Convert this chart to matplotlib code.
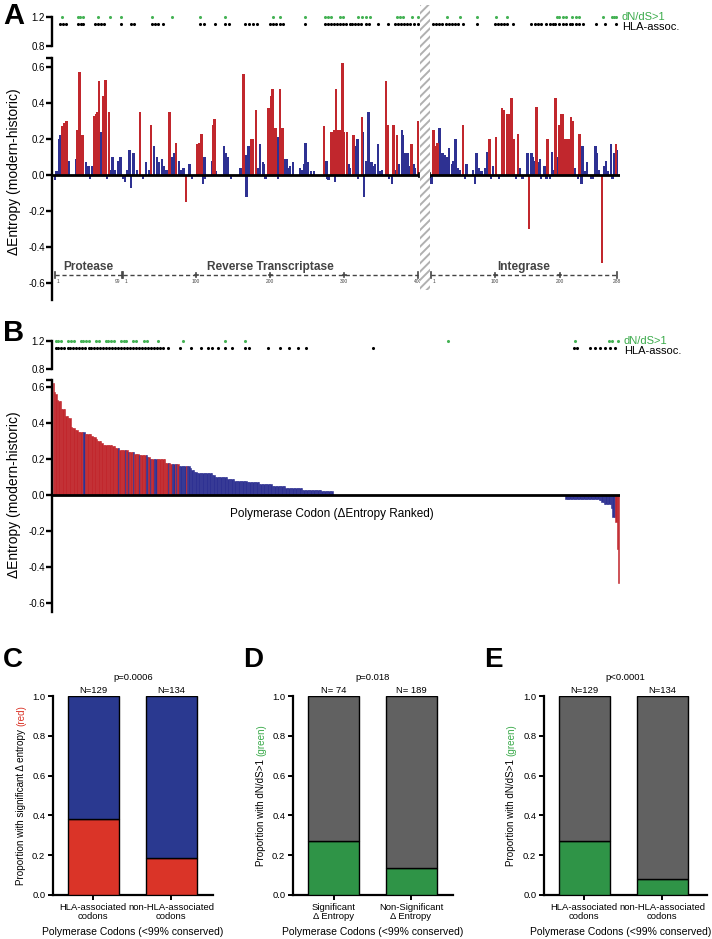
import matplotlib
matplotlib.use('Agg')
import matplotlib.pyplot as plt
from matplotlib.patches import Rectangle
import numpy as np

plt.rcParams['font.family'] = ['Liberation Sans', 'DejaVu Sans']
plt.rcParams['hatch.linewidth'] = 1.4

# ------------------------------------------------------------------ data
gene_names = ['Protease', 'Reverse Transcriptase', 'Integrase']
gene_len = [99, 400, 288]

# per-codon change in entropy (modern - historic); sig = 1 -> significant (red)
pr_codon = [1, 3, 7, 9, 12, 14, 16, 18, 21, 32, 34, 37, 40, 42, 46, 50, 52, 55, 57, 58, 61, 63, 65, 68, 70,
            72, 75, 77, 80, 82, 85, 89, 93, 97]
pr_delta = [-0.03, 0.02, 0.20, 0.22, 0.27, 0.29, 0.28, 0.30, 0.08, 0.09, 0.25, 0.57, 0.22, 0.22, 0.07, 0.05,
            -0.02, 0.05, 0.05, 0.33, 0.34, 0.35, 0.52, 0.24, 0.16, 0.44, 0.53, -0.02, 0.35, 0.03, 0.10, 0.03,
            0.08, 0.10]
pr_sig = [0, 0, 0, 0, 1, 1, 1, 1, 0, 0, 1, 1, 1, 1, 0, 0, 0, 0, 0, 1, 1, 1, 1, 0, 0, 1, 1, 0, 1, 0, 0, 0, 0, 0]

rt_codon = [1, 4, 7, 10, 12, 15, 20, 24, 28, 32, 36, 39, 43, 47, 49, 54, 56, 60, 64, 67, 70, 73, 77, 80, 83,
            86, 91, 94, 102, 104, 107, 109, 111, 112, 121, 123, 125, 127, 138, 140, 143, 147, 160, 164, 167,
            168, 171, 175, 177, 181, 183, 186, 190, 192, 194, 198, 201, 203, 207, 210, 211, 213, 217, 220,
            222, 225, 227, 231, 240, 243, 246, 248, 251, 255, 259, 273, 276, 277, 279, 283, 286, 288, 289,
            292, 295, 298, 300, 304, 306, 308, 313, 316, 318, 319, 324, 326, 327, 330, 333, 337, 340, 342,
            346, 348, 351, 357, 359, 361, 365, 367, 369, 372, 374, 378, 380, 383, 386, 387, 391, 394, 396, 400]
rt_delta = [-0.02, -0.04, 0.03, 0.14, -0.07, 0.12, 0.03, 0.35, -0.02, 0.07, 0.03, 0.28, 0.16, 0.10, 0.07,
            0.09, 0.05, 0.03, 0.35, 0.10, 0.12, 0.18, 0.08, 0.03, 0.04, -0.15, 0.06, -0.02, 0.17, 0.18, 0.23,
            -0.05, 0.10, -0.02, 0.08, 0.28, 0.31, 0.02, 0.16, 0.12, 0.10, -0.02, 0.04, 0.56, 0.11, -0.12,
            0.16, 0.20, 0.20, 0.36, 0.04, 0.17, 0.07, 0.06, -0.02, 0.37, 0.44, 0.48, 0.26, 0.21, -0.02, 0.48,
            0.26, 0.09, 0.09, 0.04, 0.05, 0.07, 0.04, 0.03, 0.06, 0.18, 0.07, 0.02, 0.02, 0.27, 0.08, -0.02,
            -0.03, 0.24, 0.25, -0.04, 0.48, 0.25, 0.25, 0.62, 0.24, 0.24, 0.06, 0.04, 0.22, 0.16, 0.20, -0.02,
            0.32, 0.24, -0.12, 0.08, 0.35, 0.07, 0.05, 0.06, 0.17, 0.02, 0.03, 0.52, 0.28, -0.02, -0.05, 0.28,
            0.03, 0.22, 0.06, 0.25, 0.22, 0.12, 0.12, 0.05, 0.17, 0.06, 0.04, 0.30]
rt_sig = [0, 0, 0, 0, 0, 0, 0, 1, 0, 0, 0, 1, 0, 0, 0, 0, 0, 0, 1, 0, 0, 1, 0, 0, 0,
          1, 0, 0, 1, 1, 1, 0, 0, 0, 0, 1, 1, 0, 0, 0, 0, 0, 0, 1, 0,
          0, 0, 1, 1, 1, 0, 0, 0, 0, 0, 1, 1, 1, 1, 0, 0, 1, 1, 0,
          0, 0, 0, 0, 0, 0, 0, 0, 0, 0, 0, 1, 0, 0, 0, 1, 1, 0, 1,
          1, 1, 1, 1, 1, 0, 0, 1, 0, 0, 0, 1, 0, 0, 0, 0, 0, 0, 0,
          0, 0, 0, 1, 1, 0, 0, 1, 0, 1, 0, 0, 0, 0, 0, 0, 1, 0, 0, 1]

in_codon = [2, 5, 8, 11, 14, 19, 23, 25, 29, 33, 35, 39, 43, 46, 50, 53, 56, 66, 69, 71, 74, 79, 84, 87, 91,
            94, 97, 101, 106, 111, 114, 118, 121, 125, 128, 132, 135, 138, 142, 150, 152, 156, 158, 161, 164,
            166, 169, 171, 176, 179, 181, 185, 188, 191, 193, 196, 199, 202, 205, 207, 211, 214, 217, 220,
            223, 228, 230, 233, 235, 238, 242, 248, 251, 255, 257, 260, 265, 269, 271, 274, 279, 281, 284,
            286, 288]
in_delta = [-0.05, 0.25, 0.16, 0.18, 0.26, 0.12, 0.11, 0.10, 0.15, 0.06, 0.08, 0.20, 0.04, 0.03, 0.28, -0.02,
            0.06, 0.03, -0.05, 0.12, 0.04, 0.02, 0.04, 0.13, 0.20, -0.02, 0.05, 0.21, -0.02, 0.37, 0.36, 0.34,
            0.34, 0.43, 0.20, -0.02, 0.23, 0.04, -0.02, 0.12, -0.30, 0.12, 0.10, 0.08, 0.38, 0.07, 0.09, -0.02,
            0.05, -0.02, 0.20, -0.02, 0.13, 0.03, 0.43, 0.10, 0.28, 0.34, 0.34, 0.20, 0.20, 0.20, 0.32, 0.30,
            0.04, -0.02, 0.23, -0.05, 0.16, 0.02, 0.07, -0.02, -0.02, 0.16, 0.12, 0.03, -0.49, 0.05, 0.08,
            0.02, 0.17, -0.02, 0.12, 0.17, 0.14]
in_sig = [0, 1, 1, 1, 0, 0, 0, 0, 0, 0, 0, 0, 0, 0, 1, 0, 0, 0, 0, 0, 0, 0, 0, 0, 1,
          0, 0, 1, 0, 1, 1, 1, 1, 1, 1, 0, 1, 0, 0, 0, 1, 0, 0, 0, 1,
          0, 0, 0, 0, 0, 1, 0, 0, 0, 1, 0, 1, 1, 1, 1, 1, 1, 1, 1,
          0, 0, 1, 0, 0, 0, 0, 0, 0, 0, 0, 0, 1, 0, 0, 0, 0, 0, 0,
          1, 0]

# codons with dN/dS > 1 (green) and HLA-associated codons (black)
pr_dnds = [11, 35, 38, 42, 64, 81, 98]
rt_dnds = [40, 67, 105, 139, 204, 213, 247, 274, 278, 282, 295, 299, 319, 324, 330, 335, 372, 376, 380,
           392, 400]
in_dnds = [26, 46, 72, 101, 119, 195, 199, 204, 209, 219, 224, 230, 266, 280, 284, 287]
pr_hla = [8, 12, 17, 35, 39, 42, 59, 64, 68, 73, 98]
rt_hla = [12, 16, 40, 44, 48, 55, 105, 111, 125, 139, 144, 166, 171, 177, 182, 200, 204, 208, 213, 217,
          247, 274, 278, 282, 287, 291, 295, 299, 303, 308, 311, 315, 319, 323, 330, 334, 346, 360, 369,
          373, 377, 381, 385, 389, 394, 400]
in_hla = [4, 9, 13, 18, 24, 29, 33, 38, 43, 50, 72, 99, 104, 109, 113, 118, 127, 156, 161, 166, 170, 179,
          184, 189, 193, 199, 204, 209, 215, 219, 224, 230, 235, 256, 269, 287]

# codons with (near) zero change, shown in the flat part of the ranked panel
n_unchanged = 168

# ranked panel marker positions (percent of rank axis)
rank_dnds_pct = [0.4, 0.9, 1.4, 2.6, 3.1, 3.6, 4.8, 5.3, 5.8, 6.3, 7.5, 8.0, 9.2, 9.7, 10.2, 10.7, 11.9,
                 12.4, 12.9, 14.1, 14.6, 16.0, 16.5, 18.5, 22.8, 30.3, 33.9, 69.7, 92.1, 98.0, 98.6, 99.6]
rank_hla_pct = [0.4, 0.9, 1.4, 1.9, 2.5, 3.0, 3.5, 4.0, 4.6, 5.1, 5.6, 6.2, 6.7, 7.2, 7.7, 8.3, 8.8, 9.3,
                9.8, 10.4, 10.9, 11.4, 11.9, 12.5, 13.0, 13.5, 14.1, 14.6, 15.1, 15.6, 16.2, 16.7, 17.2,
                17.7, 18.3, 18.8, 19.3, 20.2, 22.4, 24.3, 26.0, 27.2, 28.0, 29.0, 30.3, 31.6, 33.9, 34.6,
                37.9, 40.0, 41.6, 43.2, 44.6, 56.4, 91.8, 92.4, 94.7, 95.6, 96.5, 97.4, 98.3, 99.2]

# panels C-E
c_groups = ['HLA-associated\ncodons', 'non-HLA-associated\ncodons']
c_n = ['N=129', 'N=134']
c_frac = [0.38, 0.185]
c_p = 'p=0.0006'
d_groups = ['Significant\n\u0394 Entropy', 'Non-Significant\n\u0394 Entropy']
d_n = ['N= 74', 'N= 189']
d_frac = [0.27, 0.135]
d_p = 'p=0.018'
e_groups = ['HLA-associated\ncodons', 'non-HLA-associated\ncodons']
e_n = ['N=129', 'N=134']
e_frac = [0.27, 0.08]
e_p = 'p<0.0001'

# ------------------------------------------------------------------ style
RED = '#c1272d'
BLUE = '#2e3192'
C_RED = '#da3428'
C_BLUE = '#2a3990'
GREY = '#616161'
GREEN = '#2f9447'
DOT_GREEN = '#45b255'
TXT_GREEN = '#3aaa4a'
GENE_GREY = '#444444'

W, H = 712, 939
fig = plt.figure(figsize=(W / 100, H / 100), dpi=100)


def rect(x0, y0, x1, y1):
    return [x0 / W, 1 - y1 / H, (x1 - x0) / W, (y1 - y0) / H]


def ftext(x, y, s, **kw):
    return fig.text(x / W, 1 - y / H, s, **kw)


# gene layout (pixel spans of each gene on the position axis)
gene_span = [(55, 122), (123, 418), (431, 617)]


def pos(g, codons):
    x0, x1 = gene_span[g]
    c = np.asarray(codons, dtype=float)
    return x0 + (c - 1) / (gene_len[g] - 1) * (x1 - x0)


def strip_axes(box, ylabel_fs=7):
    ax = fig.add_axes(rect(*box))
    ax.set_xlim(box[0], box[2])
    ax.set_ylim(0.8, 1.2)
    for sp in ['top', 'right', 'bottom']:
        ax.spines[sp].set_visible(False)
    ax.spines['left'].set_linewidth(1.7)
    ax.set_xticks([])
    ax.set_yticks([0.8, 1.2])
    ax.set_yticklabels(['0.8', '1.2'], fontsize=ylabel_fs)
    ax.tick_params(axis='y', length=4, width=1.7, pad=1)
    ax.patch.set_alpha(0)
    return ax


def main_axes(box, ylim, top):
    ax = fig.add_axes(rect(*box))
    ax.set_ylim(*ylim)
    for sp in ['top', 'right', 'bottom']:
        ax.spines[sp].set_visible(False)
    ax.spines['left'].set_linewidth(1.7)
    ax.set_xticks([])
    ticks = [-0.6, -0.4, -0.2, 0.0, 0.2, 0.4, 0.6, top]
    ax.set_yticks(ticks)
    ax.set_yticklabels(['-0.6', '-0.4', '-0.2', '0.0', '0.2', '0.4', '0.6', ''], fontsize=7)
    ax.tick_params(axis='y', length=4, width=1.7, pad=1)
    ax.patch.set_alpha(0)
    return ax


# ------------------------------------------------------------------ panel A
codons = [pr_codon, rt_codon, in_codon]
deltas = [pr_delta, rt_delta, in_delta]
sigs = [pr_sig, rt_sig, in_sig]
dnds = [pr_dnds, rt_dnds, in_dnds]
hla = [pr_hla, rt_hla, in_hla]

sa = strip_axes((52, 17, 620, 46))
for g in range(3):
    sa.scatter(pos(g, dnds[g]), np.full(len(dnds[g]), 1.2), s=5, color=DOT_GREEN, lw=0, clip_on=False)
    sa.scatter(pos(g, hla[g]), np.full(len(hla[g]), 1.1), s=5, color='black', lw=0, clip_on=False)
ftext(622, 17, 'dN/dS>1', color=TXT_GREEN, fontsize=8, va='center')
ftext(622, 27, 'HLA-assoc.', color='black', fontsize=8, va='center')

A_top = (175 - 58) / 180
A_bot = (175 - 300) / 180
aa = main_axes((52, 58, 620, 300), (A_bot, A_top), A_top)
aa.set_xlim(52, 620)
for want in (0, 1):
    for g in range(3):
        d = np.asarray(deltas[g]); s = np.asarray(sigs[g]); x = pos(g, codons[g])
        m = s == want
        aa.bar(x[m], d[m], width=2.4, color=RED if want else BLUE, lw=0)
aa.plot([52, 419], [0, 0], color='black', lw=2, solid_capstyle='butt')
aa.plot([430, 620], [0, 0], color='black', lw=2, solid_capstyle='butt')
aa.plot([419, 419], [-0.012, 0.012], color='black', lw=1.2)
aa.plot([430.5, 430.5], [-0.012, 0.012], color='black', lw=1.2)

# gene axis
yg = -0.555
for g in range(3):
    x0, x1 = gene_span[g]
    aa.plot([x0, x1], [yg, yg], color=GENE_GREY, lw=1, dashes=(3, 2))
    aa.plot([x0, x0], [yg - 0.015, yg + 0.015], color=GENE_GREY, lw=1.2)
    aa.plot([x1, x1], [yg - 0.015, yg + 0.015], color=GENE_GREY, lw=1.2)
    aa.text((x0 + x1) / 2, yg + 0.012, gene_names[g], ha='center', va='bottom', fontsize=8.6,
            fontweight='bold', color=GENE_GREY)
gene_ticks = [[1, 99], [1, 100, 200, 300, 400], [1, 100, 200, 288]]
for g in range(3):
    for c in gene_ticks[g]:
        xc = pos(g, [c])[0]
        if c not in (1, gene_len[g]):
            aa.plot([xc, xc], [yg - 0.012, yg + 0.012], color=GENE_GREY, lw=1.2)
            aa.plot([xc - 1.5, xc + 1.5], [yg, yg], color=GENE_GREY, lw=1.2)
        ha = 'left' if c == 1 else ('right' if (g == 0 and c == 99) else 'center')
        xt = xc + (1.5 if c == 1 else (-2 if (g == 0 and c == 99) else 0))
        aa.text(xt, yg - 0.025, str(c), ha=ha, va='top', fontsize=3.5, color=GENE_GREY)

# hatched break
hatch = Rectangle((420 / W, 1 - 290 / H), 10 / W, 285 / H, transform=fig.transFigure,
                  facecolor='white', edgecolor='#b0b0b0', hatch='////', lw=0, zorder=5)
fig.patches.append(hatch)

ftext(14, 172, '\u0394Entropy (modern-historic)', rotation=90, ha='center', va='center', fontsize=10)
ftext(3, 16, 'A', fontsize=21, fontweight='bold', va='center')

# ------------------------------------------------------------------ panel B
all_d = np.concatenate([np.asarray(d, float) for d in deltas] + [np.zeros(n_unchanged)])
all_s = np.concatenate([np.asarray(s, int) for s in sigs] + [np.zeros(n_unchanged, int)])
order = np.argsort(-all_d, kind='stable')
rd = all_d[order]; rs = all_s[order]
N = len(rd)
rx = np.arange(N)

sb = strip_axes((52, 341, 620, 369))
sb.set_xlim(-1, N)
sb.scatter(np.asarray(rank_dnds_pct) / 100 * N, np.full(len(rank_dnds_pct), 1.2), s=5, color=DOT_GREEN,
           lw=0, clip_on=False)
sb.scatter(np.asarray(rank_hla_pct) / 100 * N, np.full(len(rank_hla_pct), 1.1), s=5, color='black',
           lw=0, clip_on=False)
ftext(624, 341, 'dN/dS>1', color=TXT_GREEN, fontsize=8, va='center')
ftext(624, 351, 'HLA-assoc.', color='black', fontsize=8, va='center')

B_top = (495 - 380) / 180
B_bot = (495 - 612) / 180
ab = main_axes((52, 380, 620, 612), (B_bot, B_top), B_top)
ab.set_xlim(-1, N)
cols = [RED if s else BLUE for s in rs]
ab.bar(rx, rd, width=1.0, color=cols, edgecolor=cols, lw=0.4)
ab.plot([-1, N], [0, 0], color='black', lw=2, solid_capstyle='butt')
ftext(332, 514, 'Polymerase Codon (\u0394Entropy Ranked)', ha='center', va='center', fontsize=8.5)
ftext(14, 495, '\u0394Entropy (modern-historic)', rotation=90, ha='center', va='center', fontsize=10)
ftext(3, 333, 'B', fontsize=21, fontweight='bold', va='center')


# ------------------------------------------------------------------ panels C-E
def stacked(box, centers_px, width_px, fracs, low_col, high_col, groups, ns, ptxt, p_x, letter, letter_x,
            ylabel_parts, ylabel_x, xlabel_x):
    x0, y0, x1, y1 = box
    unit = centers_px[1] - centers_px[0]
    ax = fig.add_axes(rect(*box))
    ax.set_xlim((x0 - centers_px[0]) / unit, (x1 - centers_px[0]) / unit)
    ax.set_ylim(0, 1.0)
    xs = np.arange(2)
    w = width_px / unit
    ax.bar(xs, fracs, width=w, color=low_col, edgecolor='black', lw=1.0, zorder=3)
    ax.bar(xs, 1 - np.asarray(fracs), bottom=fracs, width=w, color=high_col, edgecolor='black', lw=1.0,
           zorder=3)
    for sp in ['top', 'right']:
        ax.spines[sp].set_visible(False)
    ax.spines['left'].set_linewidth(1.6)
    ax.spines['bottom'].set_linewidth(1.6)
    ax.spines['left'].set_zorder(4)
    ax.set_yticks([0, 0.2, 0.4, 0.6, 0.8, 1.0])
    ax.set_yticklabels(['0.0', '0.2', '0.4', '0.6', '0.8', '1.0'], fontsize=6.8)
    ax.set_xticks(xs)
    ax.set_xticklabels(groups, fontsize=6.8, linespacing=1.05)
    ax.tick_params(length=3.5, width=1.4, pad=2)
    ax.patch.set_alpha(0)
    for i in range(2):
        ax.text(xs[i], 1.003, ns[i], ha='center', va='bottom', fontsize=6.8)
    ftext(p_x, 678, ptxt, ha='center', va='center', fontsize=6.8)
    ftext(xlabel_x, 932, 'Polymerase Codons (<99% conserved)', ha='center', va='center',
          fontsize=7.5)
    ftext(letter_x, 660, letter, fontsize=20, fontweight='bold', va='center')
    # two-colour y label
    texts = [ftext(ylabel_x, 800, t, color=c, rotation=90, ha='center', va='bottom', fontsize=7.1)
             for t, c in ylabel_parts]
    return ax, texts


axc, tc = stacked((53, 696, 213, 895), (93, 171), 51, c_frac, C_RED, C_BLUE, c_groups, c_n, c_p, 133,
                  'C', 3, [('Proportion with significant \u0394 entropy ', 'black'), ('(red)', C_RED)], 21,
                  133)
axd, td = stacked((293, 696, 453, 895), (333.5, 411), 51, d_frac, GREEN, GREY, d_groups, d_n, d_p, 373,
                  'D', 243, [('Proportion with dN/dS>1 ', 'black'), ('(green)', TXT_GREEN)], 261, 373)
axe, te = stacked((544, 696, 707, 895), (584, 662), 51, e_frac, GREEN, GREY, e_groups, e_n, e_p, 625,
                  'E', 484, [('Proportion with dN/dS>1 ', 'black'), ('(green)', TXT_GREEN)], 511, 621)

fig.canvas.draw()
r = fig.canvas.get_renderer()
for texts in (tc, td, te):
    hs = [t.get_window_extent(r).height for t in texts]
    total = sum(hs)
    ybot = (H - 795) - total / 2  # pixels from bottom
    for t, h in zip(texts, hs):
        xfig = t.get_position()[0]
        t.set_position((xfig, ybot / H))
        ybot += h

fig.savefig('out.png', dpi=100)
